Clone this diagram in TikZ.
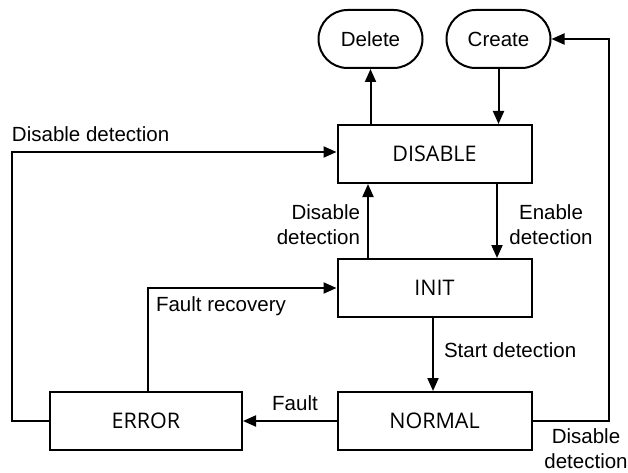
\documentclass[tikz,border=0pt]{standalone}
\usepackage{fontspec}
\setmainfont{Liberation Sans}
\newfontfamily\boxfont{Open Sans}
\usetikzlibrary{arrows.meta,shapes.misc}
\begin{document}
\begin{tikzpicture}[x=1pt,y=-1pt,
  line width=2pt,
  lbl/.style={font=\fontsize{20.5}{25}\selectfont, inner sep=0pt, text=black},
  statebox/.style={draw, rectangle, inner sep=0pt, minimum width=194pt, minimum height=58pt,
     font=\boxfont\fontsize{21.5}{25}\selectfont, text=black},
  term/.style={draw, rounded rectangle, inner sep=0pt, minimum width=104pt, minimum height=58pt,
     font=\fontsize{20.5}{25}\selectfont},
  arr/.style={-{Triangle[length=13pt,width=11pt]}}]
\useasboundingbox (0,0) rectangle (628,473);

\node[term] (del) at (370.5,39) {Delete};
\node[term] (cre) at (498.5,39) {Create};
\node[statebox] (dis) at (434.5,154) {DISABLE};
\node[statebox] (ini) at (434.5,288) {INIT};
\node[statebox] (nor) at (434.5,421) {NORMAL};
\node[statebox, minimum width=192pt] (err) at (146,421) {ERROR};

\coordinate (c1) at (12,421);
\coordinate (c2) at (12,152);
\coordinate (c3) at (148,288);
\coordinate (c4) at (609,421);
\coordinate (c5) at (609,39);

% DISABLE -> Delete
\draw[arr] (dis.north -| del) -- (del.south);
% Create -> DISABLE
\draw[arr] (cre.south) -- (dis.north -| cre);
% DISABLE -> INIT (enable)
\draw[arr] (dis.south -| 497,0) -- (ini.north -| 497,0);
% INIT -> DISABLE (disable)
\draw[arr] (ini.north -| 368,0) -- (dis.south -| 368,0);
% INIT -> NORMAL
\draw[arr] (ini.south -| 433,0) -- (nor.north -| 433,0);
% NORMAL -> ERROR
\draw[arr] (nor.west) -- (err.east);
% ERROR -> INIT
\draw[arr] (err.north -| c3) -- (c3) -- (c3 -| ini.west);
% ERROR -> DISABLE
\draw[arr] (err.west) -- (c1) -- (c2) -- (c2 -| dis.west);
% NORMAL -> Create
\draw[arr] (nor.east) -- (c4) -- (c5) -- (cre.east);

% labels
\node[lbl, anchor=base west] (l1) at (11,142) {Disable detection};
\node[lbl, align=right, anchor=east] (l2) at (361,225) {Disable\\detection};
\node[lbl, align=center] (l3) at (551,225) {Enable\\detection};
\node[lbl, anchor=west] (l4) at (443,350) {Start detection};
\node[lbl, anchor=west] (l5) at (155,306) {Fault recovery};
\node[lbl] (l6) at (295,403) {Fault};
\node[lbl, align=center] (l7) at (586,449) {Disable\\detection};
\end{tikzpicture}
\end{document}
